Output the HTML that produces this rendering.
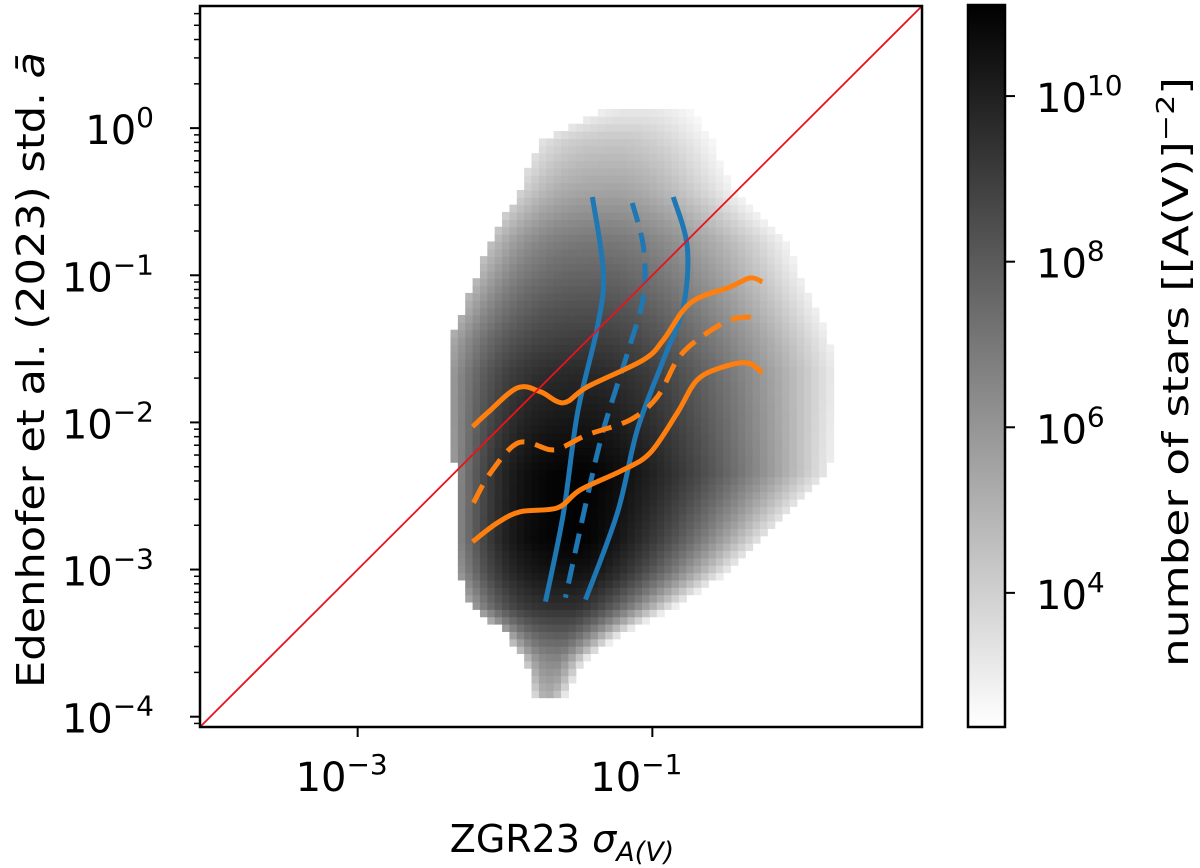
<!DOCTYPE html>
<html><head><meta charset="utf-8"><style>
body{margin:0;background:#fff;}
svg{display:block;font-family:"DejaVu Sans","Liberation Sans",sans-serif;}
</style></head><body>
<svg id="chart" width="1200" height="868" viewBox="0 0 1200 868">
<g id="heat"></g>
<g id="lines"></g>
<g id="axes"></g>
<defs><linearGradient id="cbg" x1="0" y1="1" x2="0" y2="0"><stop offset="0" stop-color="#fff"/><stop offset="1" stop-color="#000"/></linearGradient></defs>
<rect x="968" y="5" width="37" height="722" fill="url(#cbg)" stroke="#000" stroke-width="2.5"/>
<g id="cbticks"></g>
<text transform="translate(1188,372) rotate(-90)" text-anchor="middle" font-size="36" textLength="590" lengthAdjust="spacingAndGlyphs">number of stars [[A(V)]<tspan dy="-14" font-size="25">−2</tspan><tspan dy="14">]</tspan></text>
<text transform="translate(44,370) rotate(-90)" text-anchor="middle" font-size="38" textLength="636" lengthAdjust="spacingAndGlyphs">Edenhofer et al. (2023) std. <tspan font-style="italic">ā</tspan></text>
<text x="562" y="852" text-anchor="middle" font-size="38">ZGR23 <tspan font-style="italic">σ</tspan><tspan font-style="italic" font-size="27" dy="9">A(V)</tspan></text>
</svg>
<script>
// histogram rows (log10 values)
const rowLogY   = [0.12, -0.08, -0.42, -0.76, -1.44, -1.66, -2.34, -2.80, -3.02, -3.25, -3.43, -3.61, -3.88];
const rowXmin   = [-1.35, -1.76, -1.90, -2.10, -2.37, -2.39, -2.34, -2.34, -2.32, -2.23, -2.00, -1.86, -1.79];
const rowXmax   = [-0.74, -0.60, -0.45, -0.10, 0.20, 0.25, 0.20, -0.25, -0.50, -0.85, -1.20, -1.45, -1.60];
const rowCenter = [-1.05, -1.20, -1.25, -1.30, -1.38, -1.42, -1.47, -1.50, -1.50, -1.55, -1.60, -1.65, -1.70];
const rowPeak   = [3.2, 4.3, 5.5, 7.0, 9.0, 9.7, 11.0, 11.0, 10.5, 9.5, 8.0, 6.5, 5.0];
// curves (log10 x, log10 y)
const blueLoX = [-1.407, -1.332, -1.373, -1.508, -1.603, -1.725];
const blueLoY = [-0.468, -0.984, -1.351, -1.935, -2.614, -3.218];
const blueMidX = [-1.136, -1.061, -1.061, -1.169, -1.332, -1.441, -1.590];
const blueMidY = [-0.509, -0.808, -1.147, -1.528, -2.050, -2.505, -3.191];
const blueHiX = [-0.858, -0.763, -0.790, -0.925, -1.102, -1.237, -1.454];
const blueHiY = [-0.468, -0.808, -1.215, -1.575, -2.050, -2.614, -3.204];
const orHiX = [-2.220, -2.119, -1.915, -1.759, -1.603, -1.441, -1.061, -0.925, -0.742, -0.471, -0.336, -0.254];
const orHiY = [-2.030, -1.935, -1.765, -1.792, -1.867, -1.758, -1.575, -1.439, -1.188, -1.079, -1.018, -1.045];
const orMidX = [-2.214, -2.098, -1.908, -1.692, -1.603, -1.441, -1.149, -0.966, -0.831, -0.695, -0.471, -0.281];
const orMidY = [-2.546, -2.342, -2.138, -2.186, -2.166, -2.084, -1.982, -1.826, -1.575, -1.439, -1.303, -1.283];
const orLoX = [-2.220, -2.051, -1.895, -1.644, -1.488, -1.197, -1.014, -0.831, -0.695, -0.519, -0.356, -0.254];
const orLoY = [-2.811, -2.682, -2.607, -2.580, -2.458, -2.322, -2.206, -1.935, -1.711, -1.623, -1.595, -1.663];
const xTickExp = [-3, -1];
const yTickExp = [0, -1, -2, -3, -4];
const cbTickExp = [10, 8, 6, 4];

const NS = "http://www.w3.org/2000/svg";
const L = 200, R = 922, T = 6, B = 727;
const lmin = -4.07, lmax = 0.83;
const X = v => L + (v - lmin) / (lmax - lmin) * (R - L);
const Y = v => B - (v - lmin) / (lmax - lmin) * (B - T);
const cmin = 2.38, cmax = 11.1;
const CY = v => 727 - (v - cmin) / (cmax - cmin) * 722;
function el(tag, attrs, parent){const e=document.createElementNS(NS,tag);for(const k in attrs)e.setAttribute(k,attrs[k]);parent.appendChild(e);return e;}

// heatmap
const heat = document.getElementById('heat');
const bw = 0.05;
function interp(arr, ly){
  for(let i=0;i<rowLogY.length-1;i++){
    const a=rowLogY[i], b=rowLogY[i+1];
    if(ly<=a && ly>=b){const t=(a-ly)/(a-b);return arr[i]+(arr[i+1]-arr[i])*t;}
  }
  return null;
}
for(let ly=lmin; ly<lmax; ly+=bw){
  const yc = ly + bw/2;
  if(yc>rowLogY[0]||yc<rowLogY[rowLogY.length-1]) continue;
  const xmn=interp(rowXmin,yc), xmx=interp(rowXmax,yc), c=interp(rowCenter,yc), pk=interp(rowPeak,yc);
  for(let lx=lmin; lx<lmax; lx+=bw){
    const xc = lx + bw/2;
    if(xc<xmn||xc>xmx) continue;
    const left = xc<c;
    const t = left ? (c-xc)/(c-xmn) : (xc-c)/(xmx-c);
    const v = pk - (pk-2.6)*(left?0.6:0.95)*Math.pow(t, left?3:1.6);
    if(v<2.6) continue;
    const g = Math.round(255*(1-Math.min(1,(v-cmin)/(cmax-cmin))));
    const r = el('rect',{x:X(lx).toFixed(2),y:Y(ly+bw).toFixed(2),width:(X(lx+bw)-X(lx)+0.6).toFixed(2),height:(Y(ly)-Y(ly+bw)+0.6).toFixed(2),fill:`rgb(${g},${g},${g})`},heat);
    
    
  }
}

// curves (smoothed with Catmull-Rom)
const lines = document.getElementById('lines');
function curve(xs, ys, color, dash, name){
  const p = xs.map((x,i)=>[X(x),Y(ys[i])]);
  let d = 'M'+p[0][0].toFixed(1)+' '+p[0][1].toFixed(1);
  for(let i=0;i<p.length-1;i++){
    const p0=p[Math.max(0,i-1)], p1=p[i], p2=p[i+1], p3=p[Math.min(p.length-1,i+2)];
    const c1=[p1[0]+(p2[0]-p0[0])/6, p1[1]+(p2[1]-p0[1])/6];
    const c2=[p2[0]-(p3[0]-p1[0])/6, p2[1]-(p3[1]-p1[1])/6];
    d += ` C${c1[0].toFixed(1)} ${c1[1].toFixed(1)} ${c2[0].toFixed(1)} ${c2[1].toFixed(1)} ${p2[0].toFixed(1)} ${p2[1].toFixed(1)}`;
  }
  const pa = el('path',{d:d,fill:'none',stroke:color,'stroke-width':5,'stroke-linecap':'butt','stroke-linejoin':'round'},lines);
  if(dash) pa.setAttribute('stroke-dasharray','20 11');
  
  
}
curve(blueLoX, blueLoY, '#1f77b4', false, 'blue-lower-quantile');
curve(blueMidX, blueMidY, '#1f77b4', true, 'blue-median');
curve(blueHiX, blueHiY, '#1f77b4', false, 'blue-upper-quantile');
curve(orHiX, orHiY, '#ff7f0e', false, 'orange-upper-quantile');
curve(orMidX, orMidY, '#ff7f0e', true, 'orange-median');
curve(orLoX, orLoY, '#ff7f0e', false, 'orange-lower-quantile');
const diag = el('line',{x1:X(lmin),y1:Y(lmin),x2:X(lmax),y2:Y(lmax),stroke:'#e8141c','stroke-width':1.8},lines);



// axes
const axes = document.getElementById('axes');
const frame = el('rect',{x:L,y:T,width:R-L,height:B-T,fill:'none',stroke:'#000','stroke-width':2.5},axes);


function lbl(x,y,exp,anchor,parent,name){
  const t = el('text',{x:x,y:y,'text-anchor':anchor,'font-size':40},parent);
  
  
  t.appendChild(document.createTextNode('10'));
  const s = el('tspan',{dy:-17,'font-size':28},t);
  s.textContent = String(exp).replace('-','−');
}
xTickExp.forEach(e=>{
  const x=X(e);
  const tk = el('line',{x1:x,y1:B,x2:x,y2:B+10,stroke:'#000','stroke-width':2},axes);
  
  
  lbl(x-16,B+64,e,'middle',axes,'x-tick-label');
});
yTickExp.forEach(e=>{
  const y=Y(e);
  const tk = el('line',{x1:L-10,y1:y,x2:L,y2:y,stroke:'#000','stroke-width':2},axes);
  
  
  lbl(L-16-30,y+16,e,'end',axes,'y-tick-label');
});
for(let e=-5;e<=0;e++){
  for(let m=2;m<=9;m++){
    const v=e+Math.log10(m);
    if(v<lmin||v>lmax) continue;
    const tk = el('line',{x1:L-6,y1:Y(v),x2:L,y2:Y(v),stroke:'#000','stroke-width':1.5},axes);
    
    
  }
}
const cbt = document.getElementById('cbticks');
cbTickExp.forEach(e=>{
  const y=CY(e);
  const tk = el('line',{x1:1005,y1:y,x2:1015,y2:y,stroke:'#000','stroke-width':2},cbt);
  
  
  lbl(1036,y+16,e,'start',cbt,'colorbar-tick-label');
});
</script>
</body></html>
